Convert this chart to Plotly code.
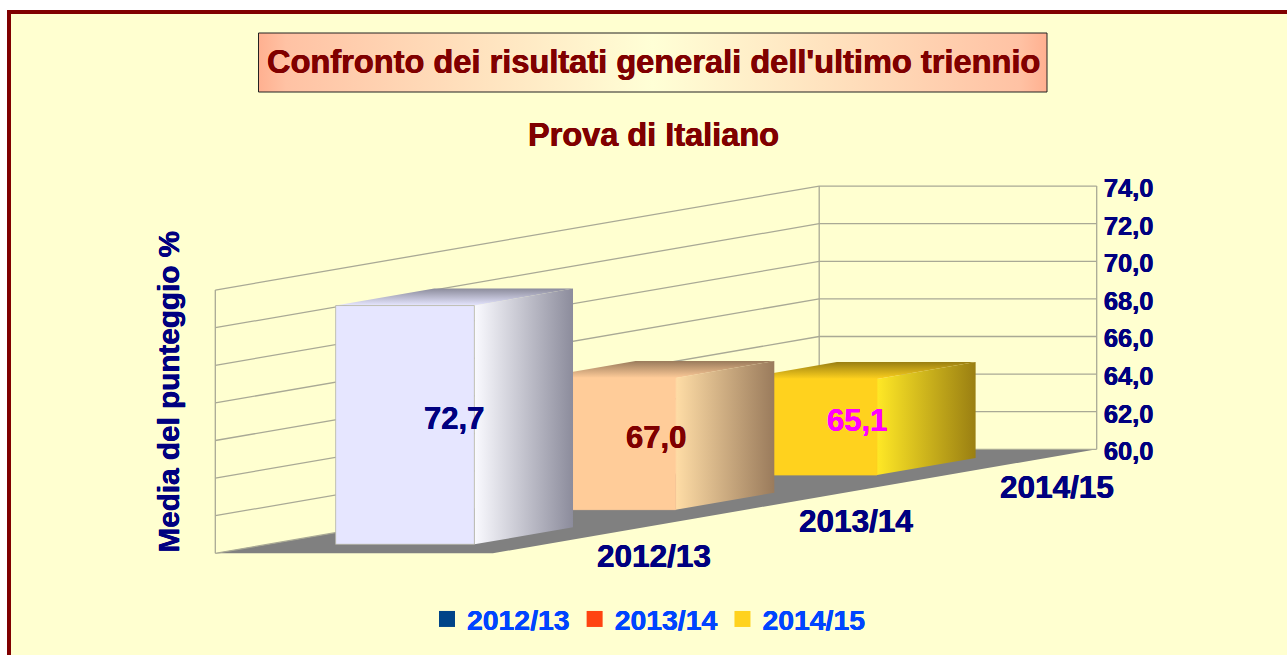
import plotly.graph_objects as go

# ---- data ----
categories = ["2012/13", "2013/14", "2014/15"]
values = [72.7, 67.0, 65.1]
tick_values = [60, 62, 64, 66, 68, 70, 72, 74]
tick_labels = ["60,0", "62,0", "64,0", "66,0", "68,0", "70,0", "72,0", "74,0"]
legend_colors = ["#004488", "#FF4411", "#FFD21E"]
face_colors = ["#E6E6FF", "#FFCC99", "#FFD21E"]
side_light = ["#FAFAFF", "#FFDDA6", "#FFE826"]
side_dark = ["#8C8C9C", "#9A7B5C", "#9A7F12"]
label_colors = ["#000080", "#800000", "#FF00FF"]
face_edges = ["#B4B4A4", "#FFCC99", "#FFD21E"]

W, H = 1287, 655
FONT = "Liberation Sans"
BG = "#FFFFD0"
GRID = "#A9A995"
NAVY = "#000080"
DARKRED = "#800000"

# layout geometry of the oblique projection (pixels)
X0_PX, FLOOR_W_PX = 215.3, 277.5      # front-left corner, floor width
DEPTH_X_PX, DEPTH_Y_PX = 201.3, 34.67 # shift per category of depth
Y60_PX, PX_PER_UNIT = 449.3, 18.8     # value 60 on the back wall, scale

DX = DEPTH_X_PX / FLOOR_W_PX
DY = DEPTH_Y_PX / PX_PER_UNIT
N = len(categories)
VMIN, VMAX = tick_values[0], tick_values[-1]


def px(w, d):
    return w + d * DX


def py(v, d):
    return v - (N - d) * DY


def poly(points, **kw):
    xs = [px(w, d) for w, d, v in points] + [px(*points[0][:2])]
    ys = [py(v, d) for w, d, v in points] + [py(points[0][2], points[0][1])]
    kw.setdefault("line", dict(width=0))
    return go.Scatter(x=xs, y=ys, mode="lines", fill="toself", showlegend=False,
                      hoverinfo="skip", **kw)


def seg(points, color=GRID, width=1.3):
    return go.Scatter(x=[px(w, d) for w, d, v in points], y=[py(v, d) for w, d, v in points],
                      mode="lines", line=dict(color=color, width=width),
                      showlegend=False, hoverinfo="skip")


def paper_x(p):
    return p / W


def paper_y(p):
    return 1 - p / H


def thick(color, amount=0.35):
    return f"{amount}px 0 0 {color}, -{amount}px 0 0 {color}"


def data_x(p):
    return (p - X0_PX) / FLOOR_W_PX


def data_y(p):
    return VMIN + (Y60_PX - p) / PX_PER_UNIT


fig = go.Figure()

# title box with its axial gradient
BOX_L, BOX_R, BOX_T, BOX_B = 258.5, 1047, 33, 92
box_x = [data_x(BOX_L), data_x(BOX_R), data_x(BOX_R), data_x(BOX_L), data_x(BOX_L)]
box_y = [data_y(BOX_B), data_y(BOX_B), data_y(BOX_T), data_y(BOX_T), data_y(BOX_B)]
fig.add_trace(go.Scatter(
    x=box_x, y=box_y, mode="lines", fill="toself", showlegend=False, hoverinfo="skip",
    line=dict(color="#222222", width=1), fillcolor="#FFE0C0",
    fillgradient=dict(type="horizontal", colorscale=[
        [0, "#FFB090"], [0.035, "#FFC2A4"], [0.5, "#FFFFD6"], [0.965, "#FFC2A4"], [1, "#FFB090"]])))

# floor
fig.add_trace(poly([(0, 0, VMIN), (1, 0, VMIN), (1, N, VMIN), (0, N, VMIN)],
                   fillcolor="#808080"))
# walls with grid lines
for t in tick_values:
    fig.add_trace(seg([(0, 0, t), (0, N, t), (1, N, t)]))
fig.add_trace(seg([(0, 0, VMIN), (0, 0, VMAX)]))
fig.add_trace(seg([(0, N, VMIN), (0, N, VMAX)]))
fig.add_trace(seg([(1, N, VMIN), (1, N, VMAX)]))

# bars, from back to front
W0, W1 = 0.245, 0.745
D0, D1 = 0.26, 0.75
for i in reversed(range(N)):
    v = values[i]
    d0, d1 = i + D0, i + D1
    fig.add_trace(poly([(W1, d0, VMIN), (W1, d1, VMIN), (W1, d1, v), (W1, d0, v)],
                       fillcolor=side_dark[i],
                       fillgradient=dict(type="horizontal",
                                         colorscale=[[0, side_light[i]], [1, side_dark[i]]])))
    fig.add_trace(poly([(W0, d0, v), (W1, d0, v), (W1, d1, v), (W0, d1, v)],
                       fillcolor=side_dark[i],
                       fillgradient=dict(type="vertical",
                                         colorscale=[[0, face_colors[i]], [1, side_dark[i]]])))
    fig.add_trace(poly([(W0, d0, VMIN), (W1, d0, VMIN), (W1, d0, v), (W0, d0, v)],
                       fillcolor=face_colors[i], line=dict(color=face_edges[i], width=0.8)))

# legend entries
for name, color in zip(categories, legend_colors):
    fig.add_trace(go.Scatter(x=[None], y=[None], mode="markers", name=name,
                             marker=dict(symbol="square", size=17, color=color)))

annotations = []
for i, cat in enumerate(categories):
    annotations.append(dict(x=px(1, i + 0.5), y=py(VMIN, i + 0.5), text=cat, showarrow=False,
                            xanchor="center", yanchor="middle", xshift=61, yshift=-20,
                            font=dict(family=FONT, size=31.5, color=NAVY, weight="bold",
                                      shadow=thick(NAVY))))
    annotations.append(dict(x=px((W0 + W1) / 2, i + (D0 + D1) / 2),
                            y=py((values[i] + VMIN) / 2, i + (D0 + D1) / 2),
                            text=f"{values[i]:.1f}".replace(".", ","), showarrow=False,
                            xanchor="center", yanchor="middle", yshift=-2,
                            font=dict(family=FONT, size=31, color=label_colors[i], weight="bold",
                                      shadow=thick(label_colors[i]))))

annotations += [
    dict(xref="paper", yref="paper", x=paper_x(653.5), y=paper_y(62),
         text="Confronto dei risultati generali dell'ultimo triennio", showarrow=False,
         xanchor="center", yanchor="middle",
         font=dict(family=FONT, size=32.6, color=DARKRED, weight="bold", shadow=thick(DARKRED))),
    dict(xref="paper", yref="paper", x=paper_x(653.5), y=paper_y(135),
         text="Prova di Italiano", showarrow=False, xanchor="center", yanchor="middle",
         font=dict(family=FONT, size=32.5, color=DARKRED, weight="bold", shadow=thick(DARKRED))),
    dict(xref="paper", yref="paper", x=paper_x(168), y=paper_y(391.5),
         text="Media del punteggio %", showarrow=False, textangle=-90,
         xanchor="center", yanchor="middle",
         font=dict(family=FONT, size=29.7, color=NAVY, weight="bold", shadow=thick(NAVY))),
]

shapes = [dict(type="rect", xref="paper", yref="paper", layer="below",
               x0=paper_x(9), x1=paper_x(W + 20), y0=paper_y(H + 20), y1=paper_y(12),
               fillcolor=BG, line=dict(color=DARKRED, width=4))]

fig.update_layout(
    width=W, height=H,
    margin=dict(l=0, r=0, t=0, b=0),
    paper_bgcolor="#FFFFFF",
    plot_bgcolor="rgba(0,0,0,0)",
    hovermode=False,
    shapes=shapes,
    annotations=annotations,
    showlegend=True,
    legend=dict(orientation="h", x=paper_x(649), y=paper_y(619), xanchor="center", yanchor="middle",
                bgcolor="rgba(0,0,0,0)", itemclick=False, itemdoubleclick=False,
                font=dict(family=FONT, size=28.4, color="#0044FF", weight="bold",
                          shadow=thick("#0044FF", 0.25))),
    xaxis=dict(visible=False, fixedrange=True,
               range=[-X0_PX / FLOOR_W_PX, (W - X0_PX) / FLOOR_W_PX]),
    yaxis=dict(range=[VMIN - (H - Y60_PX) / PX_PER_UNIT, VMIN + Y60_PX / PX_PER_UNIT],
               fixedrange=True, side="right", anchor="free",
               position=(X0_PX + FLOOR_W_PX + 3 * DEPTH_X_PX) / W,
               tickmode="array", tickvals=tick_values, ticktext=tick_labels,
               ticks="outside", ticklen=1, tickcolor="rgba(0,0,0,0)", ticklabelshift=2,
               showgrid=False, zeroline=False, showline=False,
               tickfont=dict(family=FONT, size=25.5, color=NAVY, weight="bold",
                             shadow=thick(NAVY))),
)

fig.write_html("out.html", config=dict(displayModeBar=False),
               post_script="document.body.style.margin='0';document.body.style.overflow='hidden';")
